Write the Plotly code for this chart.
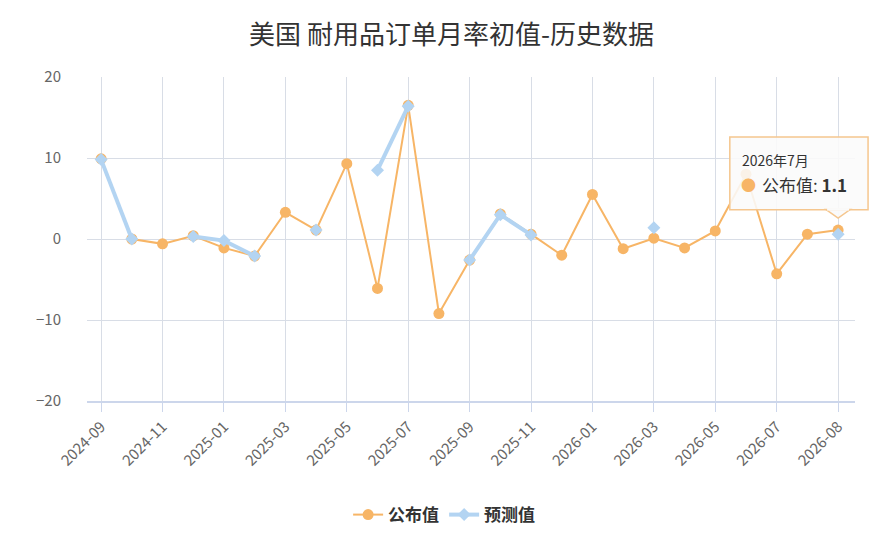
import plotly.graph_objects as go

# Data
release_dates = ["2024-09-26", "2024-10-25", "2024-11-27", "2024-12-24", "2025-01-28",
                 "2025-02-27", "2025-03-26", "2025-04-24", "2025-05-27", "2025-06-26",
                 "2025-07-25", "2025-08-26", "2025-09-25", "2025-10-27", "2025-11-25",
                 "2025-12-23", "2026-01-27", "2026-02-26", "2026-03-25", "2026-04-24",
                 "2026-05-27", "2026-06-25", "2026-07-02", "2026-07-28", "2026-08-26"]

published = [9.9, 0.0, -0.6, 0.4, -1.1, -2.1, 3.3, 1.1, 9.3, -6.1,
             16.5, -9.2, -2.6, 3.1, 0.6, -2.0, 5.5, -1.2, 0.1, -1.1,
             1.0, 8.0, -4.3, 0.6, 1.1]

forecast = [9.8, 0.0, None, 0.3, -0.2, -2.1, None, 1.1, None, 8.5,
            16.4, None, -2.6, 3.0, 0.5, None, None, None, 1.4, None,
            None, None, None, None, 0.6]

tick_vals = release_dates[::2]
tick_labels = ["2024-09", "2024-11", "2025-01", "2025-03", "2025-05", "2025-07", "2025-09",
               "2025-11", "2026-01", "2026-03", "2026-05", "2026-07", "2026-08"]

orange = "#f7b566"
blue = "#b3d4f2"
border = "#f5c68e"
font_family = "Noto Sans CJK SC, Noto Sans, sans-serif"

fig = go.Figure()

fig.add_trace(go.Scatter(
    x=release_dates, y=published, name="公布值",
    mode="lines+markers",
    line=dict(color=orange, width=2),
    marker=dict(color=orange, size=11, symbol="circle"),
    cliponaxis=False
))

fig.add_trace(go.Scatter(
    x=release_dates, y=forecast, name="预测值",
    mode="lines+markers",
    line=dict(color=blue, width=4),
    marker=dict(color=blue, size=10, symbol="diamond"),
    connectgaps=False,
    cliponaxis=False
))

# tooltip-like box on the last point
tip_x, tip_y = release_dates[-1], published[-1]
fig.add_shape(type="rect", xref="paper", yref="paper",
              x0=0.837, x1=1.017, y0=0.590, y1=0.815,
              fillcolor="rgba(250,250,250,0.88)", line=dict(color=border, width=1.5),
              layer="above")
fig.add_shape(type="path", xref="x", yref="y", xsizemode="pixel", ysizemode="pixel",
              xanchor=tip_x, yanchor=tip_y, path="M -12,20.5 L 0,12 L 12,20.5 Z",
              fillcolor="rgba(250,250,250,0.95)", line=dict(color=border, width=1.5),
              layer="above")
fig.add_shape(type="rect", xref="x", yref="y", xsizemode="pixel", ysizemode="pixel",
              xanchor=tip_x, yanchor=tip_y, x0=-11, x1=11, y0=19.5, y1=22,
              fillcolor="rgb(250,250,250)", line=dict(width=0), layer="above")
fig.add_annotation(x=tip_x, y=tip_y, xref="x", yref="y", text="2026年7月",
                   showarrow=False, xanchor="left", yanchor="middle",
                   xshift=-98, yshift=70,
                   font=dict(family=font_family, size=14, color="#333333"))
fig.add_annotation(x=tip_x, y=tip_y, xref="x", yref="y", text="●",
                   showarrow=False, xanchor="center", yanchor="middle",
                   xshift=-90, yshift=46,
                   font=dict(family=font_family, size=15, color=orange))
fig.add_annotation(x=tip_x, y=tip_y, xref="x", yref="y", text="公布值: <b>1.1</b>",
                   showarrow=False, xanchor="left", yanchor="middle",
                   xshift=-78, yshift=46,
                   font=dict(family=font_family, size=17, color="#333333"))

fig.update_layout(
    width=887, height=549,
    margin=dict(l=79, r=40, t=69, b=156),
    paper_bgcolor="white", plot_bgcolor="white",
    font=dict(family=font_family, color="#666666", size=13),
    title=dict(text="美国 耐用品订单月率初值-历史数据", x=0.5, xanchor="center",
               y=0.951, yanchor="middle",
               font=dict(size=26, color="#333333", family=font_family)),
    showlegend=True,
    legend=dict(orientation="h", x=0.465, xanchor="center", y=-0.352, yanchor="middle",
                font=dict(size=17, color="#333333", family=font_family, weight="bold"),
                itemwidth=30),
    hovermode=False
)

fig.update_xaxes(
    type="category",
    range=[-0.46, 24.55],
    tickmode="array", tickvals=tick_vals, ticktext=tick_labels,
    tickangle=-45,
    showgrid=True, gridcolor="#d8dde6", gridwidth=1,
    ticks="outside", ticklen=9, tickcolor="#ccd6eb",
    showline=True, linecolor="#ccd6eb", linewidth=2, zeroline=False,
    tickfont=dict(size=15, color="#666666")
)

fig.update_yaxes(
    range=[-20, 20],
    tickvals=[-20, -10, 0, 10, 20],
    ticktext=["−20", "−10", "0", "10", "20"],
    showgrid=True, gridcolor="#d8dde6", gridwidth=1,
    zeroline=False, showline=False,
    ticks="", ticklabelstandoff=25,
    tickfont=dict(size=15, color="#666666")
)

fig.write_html("out.html")
